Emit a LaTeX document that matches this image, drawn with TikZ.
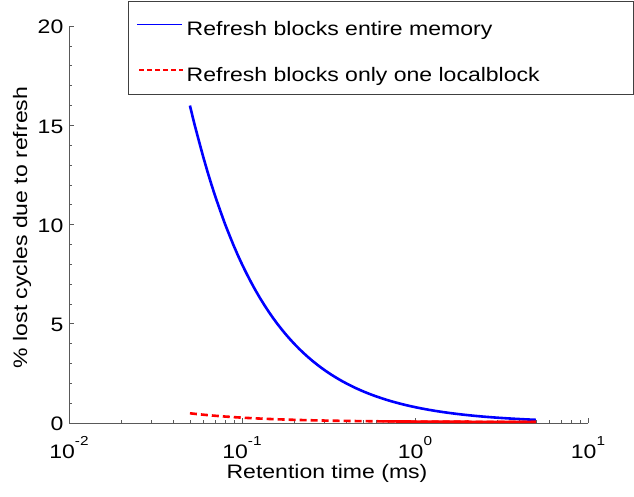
\documentclass[tikz,border=0pt]{standalone}
\usepackage{fontspec}
\setmainfont[FakeStretch=1.18]{Liberation Sans}
\newcommand{\lblfont}{\fontsize{19.5bp}{23bp}\selectfont}
\newcommand{\suprs}[1]{\raisebox{13bp}{\fontsize{13bp}{13bp}\selectfont #1}}
\begin{document}
\begin{tikzpicture}[x=1bp,y=-1bp,
  axisline/.style={draw=black!65, line width=0.8bp},
  ticklbl/.style={font=\lblfont, inner sep=0pt},
  curveblue/.style={draw={rgb,255:red,0;green,0;blue,255}, line width=2.6bp},
  curvered/.style={draw={rgb,255:red,255;green,0;blue,0}, line width=2.6bp}]
\useasboundingbox (0,0) rectangle (634,497);
\fill[white] (0,0) rectangle (634,497);
% axes
\draw[axisline] (69,26.2) -- (69,423) -- (588,423);
\foreach \v in {0,...,20} \draw[axisline] (69,{423-19.84*\v}) -- ++(3,0);
\foreach \v in {0,5,...,20} {
  \draw[axisline] (69,{423-19.84*\v}) -- ++(5,0);
  \node[ticklbl, anchor=east] (y\v) at (63.5,{424-19.84*\v}) {\v};
}
\foreach \d in {-2,-1,0} \foreach \m in {2,...,9}
  \draw[axisline] ({69+173*(\d+2+log10(\m))},423) -- ++(0,-3);
\foreach \d in {-2,-1,0,1} {
  \draw[axisline] ({69+173*(\d+2)},423) -- ++(0,-5);
  \node[ticklbl, anchor=base] (x\d) at ({69+173*(\d+2)},458) {10\suprs{\d}};
}
% curves
\draw[curveblue] plot[domain=-1.30103:0.69897, samples=80]
  ({69+173*(\x+2)}, {423-19.84*0.8/pow(10,\x)});
\draw[curvered, dash pattern=on 7bp off 4bp] plot[domain=-1.30103:0.69897, samples=80]
  ({69+173*(\x+2)}, {423-19.84*(0.05+0.022/pow(10,\x))});
\draw[curvered] plot[domain=-0.187:0.69897, samples=40]
  ({69+173*(\x+2)}, {423-19.84*(0.05+0.022/pow(10,\x))});
% labels
\node[ticklbl, anchor=base] (xlabel) at (327,478.3) {Retention time (ms)};
\node[ticklbl, anchor=base, rotate=90] (ylabel) at (27,227.5) {\% lost cycles due to refresh};
% legend
\node[draw=black!75, fill=white, line width=0.8bp, anchor=north west,
  minimum width=505bp, minimum height=93.3bp, inner sep=0pt] (legend) at (128,0.7) {};
\draw[draw={rgb,255:red,0;green,0;blue,255}, line width=1.5bp] (137,24.5) -- (182,24.5);
\draw[draw={rgb,255:red,255;green,0;blue,0}, line width=1.5bp, dash pattern=on 5bp off 3bp] (139,70) -- (183,70);
\node[ticklbl, anchor=base west] (leg1) at (186.5,36) {Refresh blocks entire memory};
\node[ticklbl, anchor=base west] (leg2) at (186.5,82) {Refresh blocks only one localblock};
\end{tikzpicture}
\end{document}
